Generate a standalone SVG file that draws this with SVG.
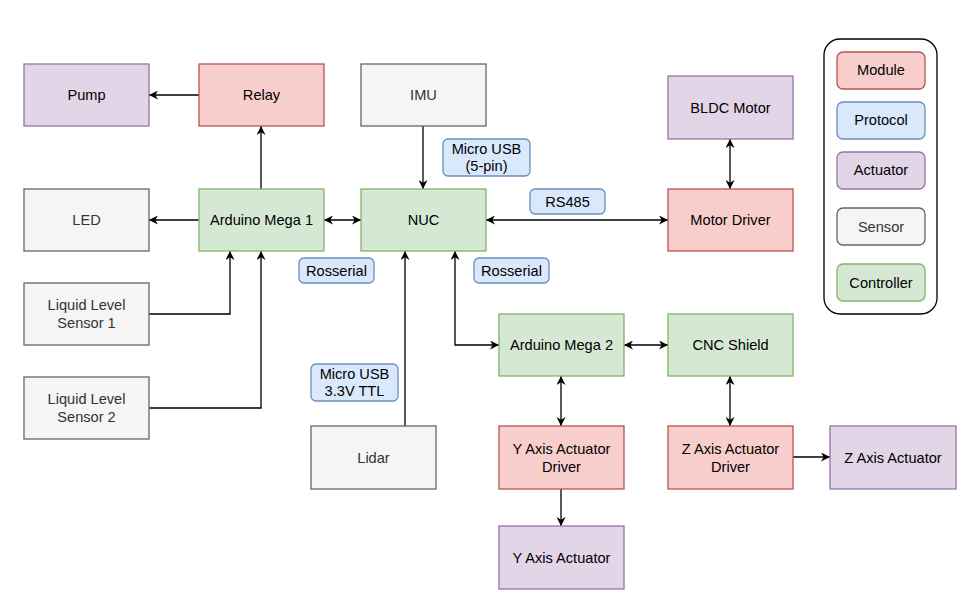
<svg xmlns="http://www.w3.org/2000/svg" width="979" height="610" viewBox="0 0 979 610">
<style>
text{font-family:"Liberation Sans",Arial,sans-serif;font-size:14.6px;text-anchor:middle;fill:#000}
.mod{fill:#f8cecc;stroke:#b85450;stroke-width:1.3}
.pro{fill:#dae8fc;stroke:#6c8ebf;stroke-width:1.3}
.act{fill:#e1d5e7;stroke:#9673a6;stroke-width:1.3}
.sen{fill:#f5f5f5;stroke:#666666;stroke-width:1.3}
.sent{fill:#333333}
.con{fill:#d5e8d4;stroke:#82b366;stroke-width:1.3}
.e{fill:none;stroke:#000;stroke-width:1.3;marker-end:url(#a)}
.b{marker-start:url(#a)}
</style>
<defs>
<marker id="a" viewBox="0 0 10 10" refX="10" refY="5" markerWidth="9" markerHeight="9" markerUnits="userSpaceOnUse" orient="auto-start-reverse">
<path d="M0,0 L10,5 L0,10 L3,5 z" fill="#000"/>
</marker>
</defs>
<rect width="979" height="610" fill="#fff"/>
<g id="connectors">
<path class="e" d="M199,95 H149"/>
<path class="e" d="M261,189 V126"/>
<path class="e" d="M199,220 H149"/>
<path class="e b" d="M324,220 H361"/>
<path class="e" d="M423,126 V189"/>
<path class="e b" d="M486,220 H668"/>
<path class="e b" d="M730,139 V189"/>
<path class="e" d="M149,314 H230 V251"/>
<path class="e" d="M149,408 H261 V251"/>
<path class="e" d="M405,426 V251"/>
<path class="e b" d="M455,251 V345 H499"/>
<path class="e b" d="M624,345 H668"/>
<path class="e b" d="M561,376 V426"/>
<path class="e b" d="M730,376 V426"/>
<path class="e" d="M561,489 V526"/>
<path class="e" d="M793,457 H830"/>
</g>
<g id="pump"><rect class="act" x="24" y="64" width="125" height="62"/><text x="86.5" y="100">Pump</text></g>
<g id="relay"><rect class="mod" x="199" y="64" width="125" height="62"/><text x="261.5" y="100">Relay</text></g>
<g id="imu"><rect class="sen" x="361" y="64" width="125" height="62"/><text class="sent" x="423.5" y="100">IMU</text></g>
<g id="led"><rect class="sen" x="24" y="189" width="125" height="62"/><text class="sent" x="86.5" y="225">LED</text></g>
<g id="mega1"><rect class="con" x="199" y="189" width="125" height="62"/><text x="261.5" y="225">Arduino Mega 1</text></g>
<g id="nuc"><rect class="con" x="361" y="189" width="125" height="62"/><text x="423.5" y="225">NUC</text></g>
<g id="lls1"><rect class="sen" x="24" y="283" width="125" height="62"/><text class="sent" x="86.5" y="310">Liquid Level</text><text class="sent" x="86.5" y="328">Sensor 1</text></g>
<g id="lls2"><rect class="sen" x="24" y="377" width="125" height="62"/><text class="sent" x="86.5" y="404">Liquid Level</text><text class="sent" x="86.5" y="422">Sensor 2</text></g>
<g id="bldc"><rect class="act" x="668" y="76" width="125" height="63"/><text x="730.5" y="112.5">BLDC Motor</text></g>
<g id="motordriver"><rect class="mod" x="668" y="189" width="125" height="62"/><text x="730.5" y="225">Motor Driver</text></g>
<g id="mega2"><rect class="con" x="499" y="314" width="125" height="62"/><text x="561.5" y="350">Arduino Mega 2</text></g>
<g id="cnc"><rect class="con" x="668" y="314" width="125" height="62"/><text x="730.5" y="350">CNC Shield</text></g>
<g id="lidar"><rect class="sen" x="311" y="426" width="125" height="63"/><text class="sent" x="373.5" y="462.5">Lidar</text></g>
<g id="ydriver"><rect class="mod" x="499" y="426" width="125" height="63"/><text x="561.5" y="453.5">Y Axis Actuator</text><text x="561.5" y="471.5">Driver</text></g>
<g id="zdriver"><rect class="mod" x="668" y="426" width="125" height="63"/><text x="730.5" y="453.5">Z Axis Actuator</text><text x="730.5" y="471.5">Driver</text></g>
<g id="zact"><rect class="act" x="830" y="426" width="126" height="63"/><text x="893" y="462.5">Z Axis Actuator</text></g>
<g id="yact"><rect class="act" x="499" y="526" width="125" height="63"/><text x="561.5" y="562.5">Y Axis Actuator</text></g>
<g id="lbl-usb5"><rect class="pro" x="443" y="139" width="87" height="37" rx="5"/><text x="486.5" y="153.5">Micro USB</text><text x="486.5" y="170.5">(5-pin)</text></g>
<g id="lbl-rs485"><rect class="pro" x="530" y="189" width="75" height="25" rx="5"/><text x="567.5" y="206.5">RS485</text></g>
<g id="lbl-ros1"><rect class="pro" x="299" y="258" width="75" height="25" rx="5"/><text x="336.5" y="275.5">Rosserial</text></g>
<g id="lbl-ros2"><rect class="pro" x="474" y="258" width="75" height="25" rx="5"/><text x="511.5" y="275.5">Rosserial</text></g>
<g id="lbl-usbttl"><rect class="pro" x="311" y="364" width="87" height="37" rx="5"/><text x="354.5" y="378.5">Micro USB</text><text x="354.5" y="395.5">3.3V TTL</text></g>
<g id="legend">
<rect x="824" y="39" width="113" height="275" rx="16" fill="#fff" stroke="#000" stroke-width="1.3"/>
<rect class="mod" x="837" y="52" width="88" height="37" rx="6"/><text x="881" y="75">Module</text>
<rect class="pro" x="837" y="102" width="88" height="37" rx="6"/><text x="881" y="125">Protocol</text>
<rect class="act" x="837" y="152" width="88" height="37" rx="6"/><text x="881" y="175">Actuator</text>
<rect class="sen" x="837" y="208" width="88" height="37" rx="6"/><text class="sent" x="881" y="231.5">Sensor</text>
<rect class="con" x="837" y="264" width="88" height="37" rx="6"/><text x="881" y="287.5">Controller</text>
</g>
</svg>
